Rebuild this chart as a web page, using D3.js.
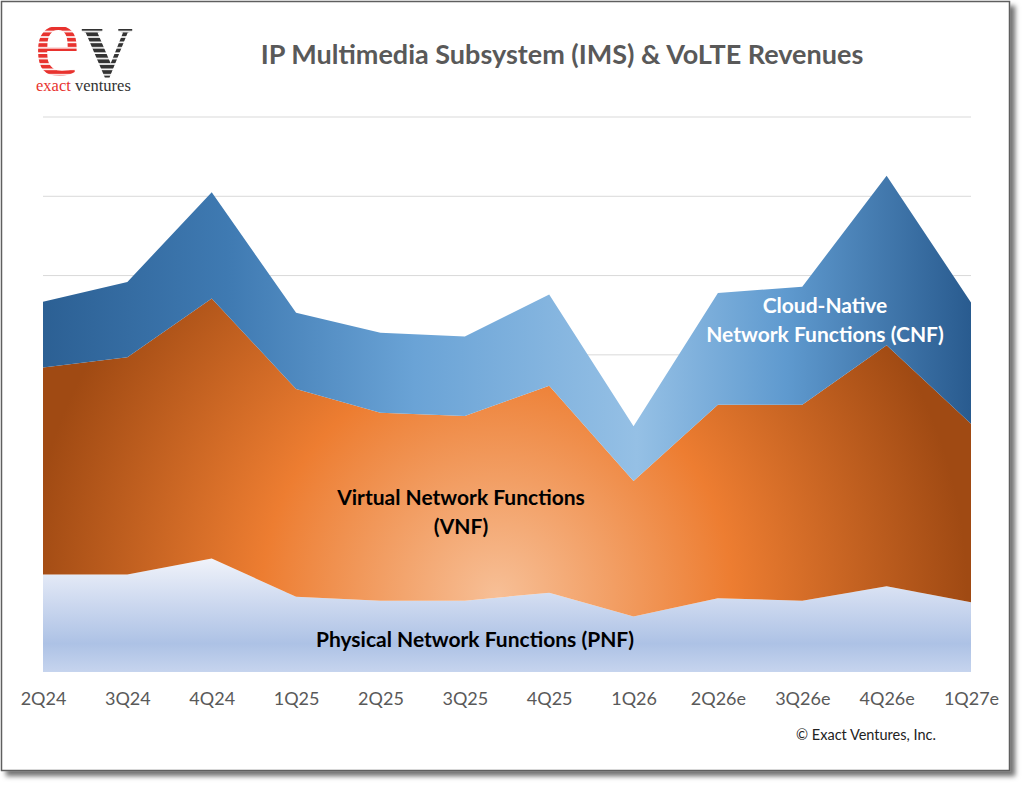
<!DOCTYPE html>
<html>
<head>
<meta charset="utf-8">
<script src="https://cdn.jsdelivr.net/npm/d3@7"></script>
<style>
  body { margin: 0; background: #fff; }
  svg { display: block; }
</style>
</head>
<body>
<svg id="chart" width="1024" height="786"></svg>
<script>
// quarters along the x axis
var quarters = ["2Q24", "3Q24", "4Q24", "1Q25", "2Q25", "3Q25", "4Q25", "1Q26", "2Q26e", "3Q26e", "4Q26e", "1Q27e"];

// stacked series (no y labels in the original, units = gridlines)
var pnf = [1.23, 1.23, 1.43, 0.95, 0.90, 0.90, 1.00, 0.70, 0.93, 0.90, 1.08, 0.88];
var vnf = [2.61, 2.74, 3.28, 2.62, 2.37, 2.33, 2.61, 1.71, 2.44, 2.47, 3.04, 2.25];
var cnf = [0.83, 0.95, 1.34, 0.96, 1.01, 1.00, 1.15, 0.69, 1.41, 1.49, 2.14, 1.53];

var gridValues = [1, 2, 3, 4, 5, 6, 7];

var svg = d3.select("#chart");
var defs = svg.append("defs");

// ---- frame with shadow
var shadow = defs.append("filter").attr("id", "shadow")
    .attr("x", "-5%").attr("y", "-5%").attr("width", "110%").attr("height", "110%");
shadow.append("feDropShadow")
    .attr("dx", 5).attr("dy", 5).attr("stdDeviation", 2.5)
    .attr("flood-color", "#000").attr("flood-opacity", 0.55);

svg.append("rect")
    .attr("x", 1.5).attr("y", 1.5)
    .attr("width", 1008).attr("height", 769)
    .attr("fill", "#fff")
    .attr("stroke", "#5f5f5f")
    .attr("stroke-width", 1.5)
    .attr("filter", "url(#shadow)");

// ---- gradients
var cnfGrad = defs.append("linearGradient").attr("id", "cnfGrad")
    .attr("gradientUnits", "userSpaceOnUse")
    .attr("x1", 43).attr("y1", 0).attr("x2", 971).attr("y2", 0);
[[0, "#2c6094"], [0.2, "#3f7ab2"], [0.4, "#6aa3d6"], [0.64, "#95c0e5"], [0.8, "#5f9acf"], [1, "#295b8f"]]
  .forEach(function(s) { cnfGrad.append("stop").attr("offset", s[0]).attr("stop-color", s[1]); });

var vnfGrad = defs.append("radialGradient").attr("id", "vnfGrad")
    .attr("gradientUnits", "userSpaceOnUse")
    .attr("cx", 497).attr("cy", 595).attr("r", 470);
[[0, "#f7bf96"], [0.5, "#ed7d31"], [1, "#a04a13"]]
  .forEach(function(s) { vnfGrad.append("stop").attr("offset", s[0]).attr("stop-color", s[1]); });

var pnfGrad = defs.append("linearGradient").attr("id", "pnfGrad")
    .attr("x1", 0).attr("y1", 0).attr("x2", 0).attr("y2", 1);
[[0, "#f0f3fa"], [0.4, "#ccd8ef"], [0.75, "#adc2e5"], [1, "#c6d4ee"]]
  .forEach(function(s) { pnfGrad.append("stop").attr("offset", s[0]).attr("stop-color", s[1]); });

// ---- scales
var x = d3.scalePoint().domain(quarters).range([43, 971]);
var y = d3.scaleLinear().domain([0, 7]).range([672, 117]);

// gridlines
svg.append("g").selectAll("line")
    .data(gridValues)
  .enter().append("line")
    .attr("x1", 43).attr("x2", 971)
    .attr("y1", function(d) { return y(d); })
    .attr("y2", function(d) { return y(d); })
    .attr("stroke", "#d9d9d9")
    .attr("stroke-width", 1);

// stacked areas
var rows = quarters.map(function(q, i) {
  return { q: q, pnf: pnf[i], vnf: vnf[i], cnf: cnf[i] };
});
var stack = d3.stack().keys(["pnf", "vnf", "cnf"]);
var layers = stack(rows);
var fills = { pnf: "url(#pnfGrad)", vnf: "url(#vnfGrad)", cnf: "url(#cnfGrad)" };

var area = d3.area()
    .x(function(d) { return x(d.data.q); })
    .y0(function(d) { return y(d[0]); })
    .y1(function(d) { return y(d[1]); });

svg.append("g").selectAll("path")
    .data(layers)
  .enter().append("path")
    .attr("d", area)
    .attr("fill", function(d) { return fills[d.key]; });

// x axis
var xAxis = svg.append("g")
    .attr("transform", "translate(0,672)")
    .call(d3.axisBottom(x).tickSize(0).tickPadding(20));
xAxis.select(".domain").remove();
xAxis.selectAll("text")
    .attr("fill", "#595959")
    .style("font-family", "Lato, 'Open Sans', sans-serif")
    .style("font-size", "18px");

// title
svg.append("text")
    .attr("x", 562).attr("y", 64)
    .attr("text-anchor", "middle")
    .attr("fill", "#595959")
    .style("font-family", "Lato, 'Open Sans', sans-serif")
    .style("font-weight", "bold")
    .style("font-size", "27px")
    .text("IP Multimedia Subsystem (IMS) & VoLTE Revenues");

// series labels
var labels = [
  { lines: ["Cloud-Native", "Network Functions (CNF)"], x: 825, y: 313, color: "#fff" },
  { lines: ["Virtual Network Functions", "(VNF)"], x: 461, y: 505, color: "#000" },
  { lines: ["Physical Network Functions (PNF)"], x: 475, y: 647, color: "#000" }
];
labels.forEach(function(l) {
  var t = svg.append("text")
      .attr("text-anchor", "middle")
      .attr("fill", l.color)
      .style("font-family", "Lato, 'Open Sans', sans-serif")
      .style("font-weight", "bold")
      .style("font-size", "21px");
  l.lines.forEach(function(s, i) {
    t.append("tspan").attr("x", l.x).attr("y", l.y + i * 29).text(s);
  });
});

// copyright
svg.append("text")
    .attr("x", 866).attr("y", 740)
    .attr("text-anchor", "middle")
    .attr("fill", "#222")
    .style("font-family", "Lato, 'Open Sans', sans-serif")
    .style("font-size", "14.5px")
    .text("\u00a9 Exact Ventures, Inc.");

// ---- logo
var redStripe = defs.append("pattern").attr("id", "redStripe")
    .attr("patternUnits", "userSpaceOnUse")
    .attr("width", 10).attr("height", 5.4);
redStripe.append("rect").attr("width", 10).attr("height", 3.8).attr("fill", "#e8322e");
var darkStripe = defs.append("pattern").attr("id", "darkStripe")
    .attr("patternUnits", "userSpaceOnUse")
    .attr("width", 10).attr("height", 5.4);
darkStripe.append("rect").attr("width", 10).attr("height", 3.8).attr("fill", "#333");

svg.append("text")
    .attr("x", 34).attr("y", 75)
    .attr("fill", "url(#redStripe)")
    .style("font-family", "'Liberation Serif', 'DejaVu Serif', serif")
    .style("font-size", "104px")
    .text("e");
svg.append("text")
    .attr("x", 81).attr("y", 76)
    .attr("fill", "url(#darkStripe)")
    .style("font-family", "'Liberation Serif', 'DejaVu Serif', serif")
    .style("font-weight", "bold")
    .style("font-size", "72px")
    .text("V");

var tag = svg.append("text")
    .attr("x", 36).attr("y", 91)
    .style("font-family", "'Liberation Serif', 'DejaVu Serif', serif")
    .style("font-size", "16.5px");
tag.append("tspan").attr("fill", "#e8322e").text("exact");
tag.append("tspan").attr("fill", "#333").text(" ventures");
</script>
</body>
</html>
